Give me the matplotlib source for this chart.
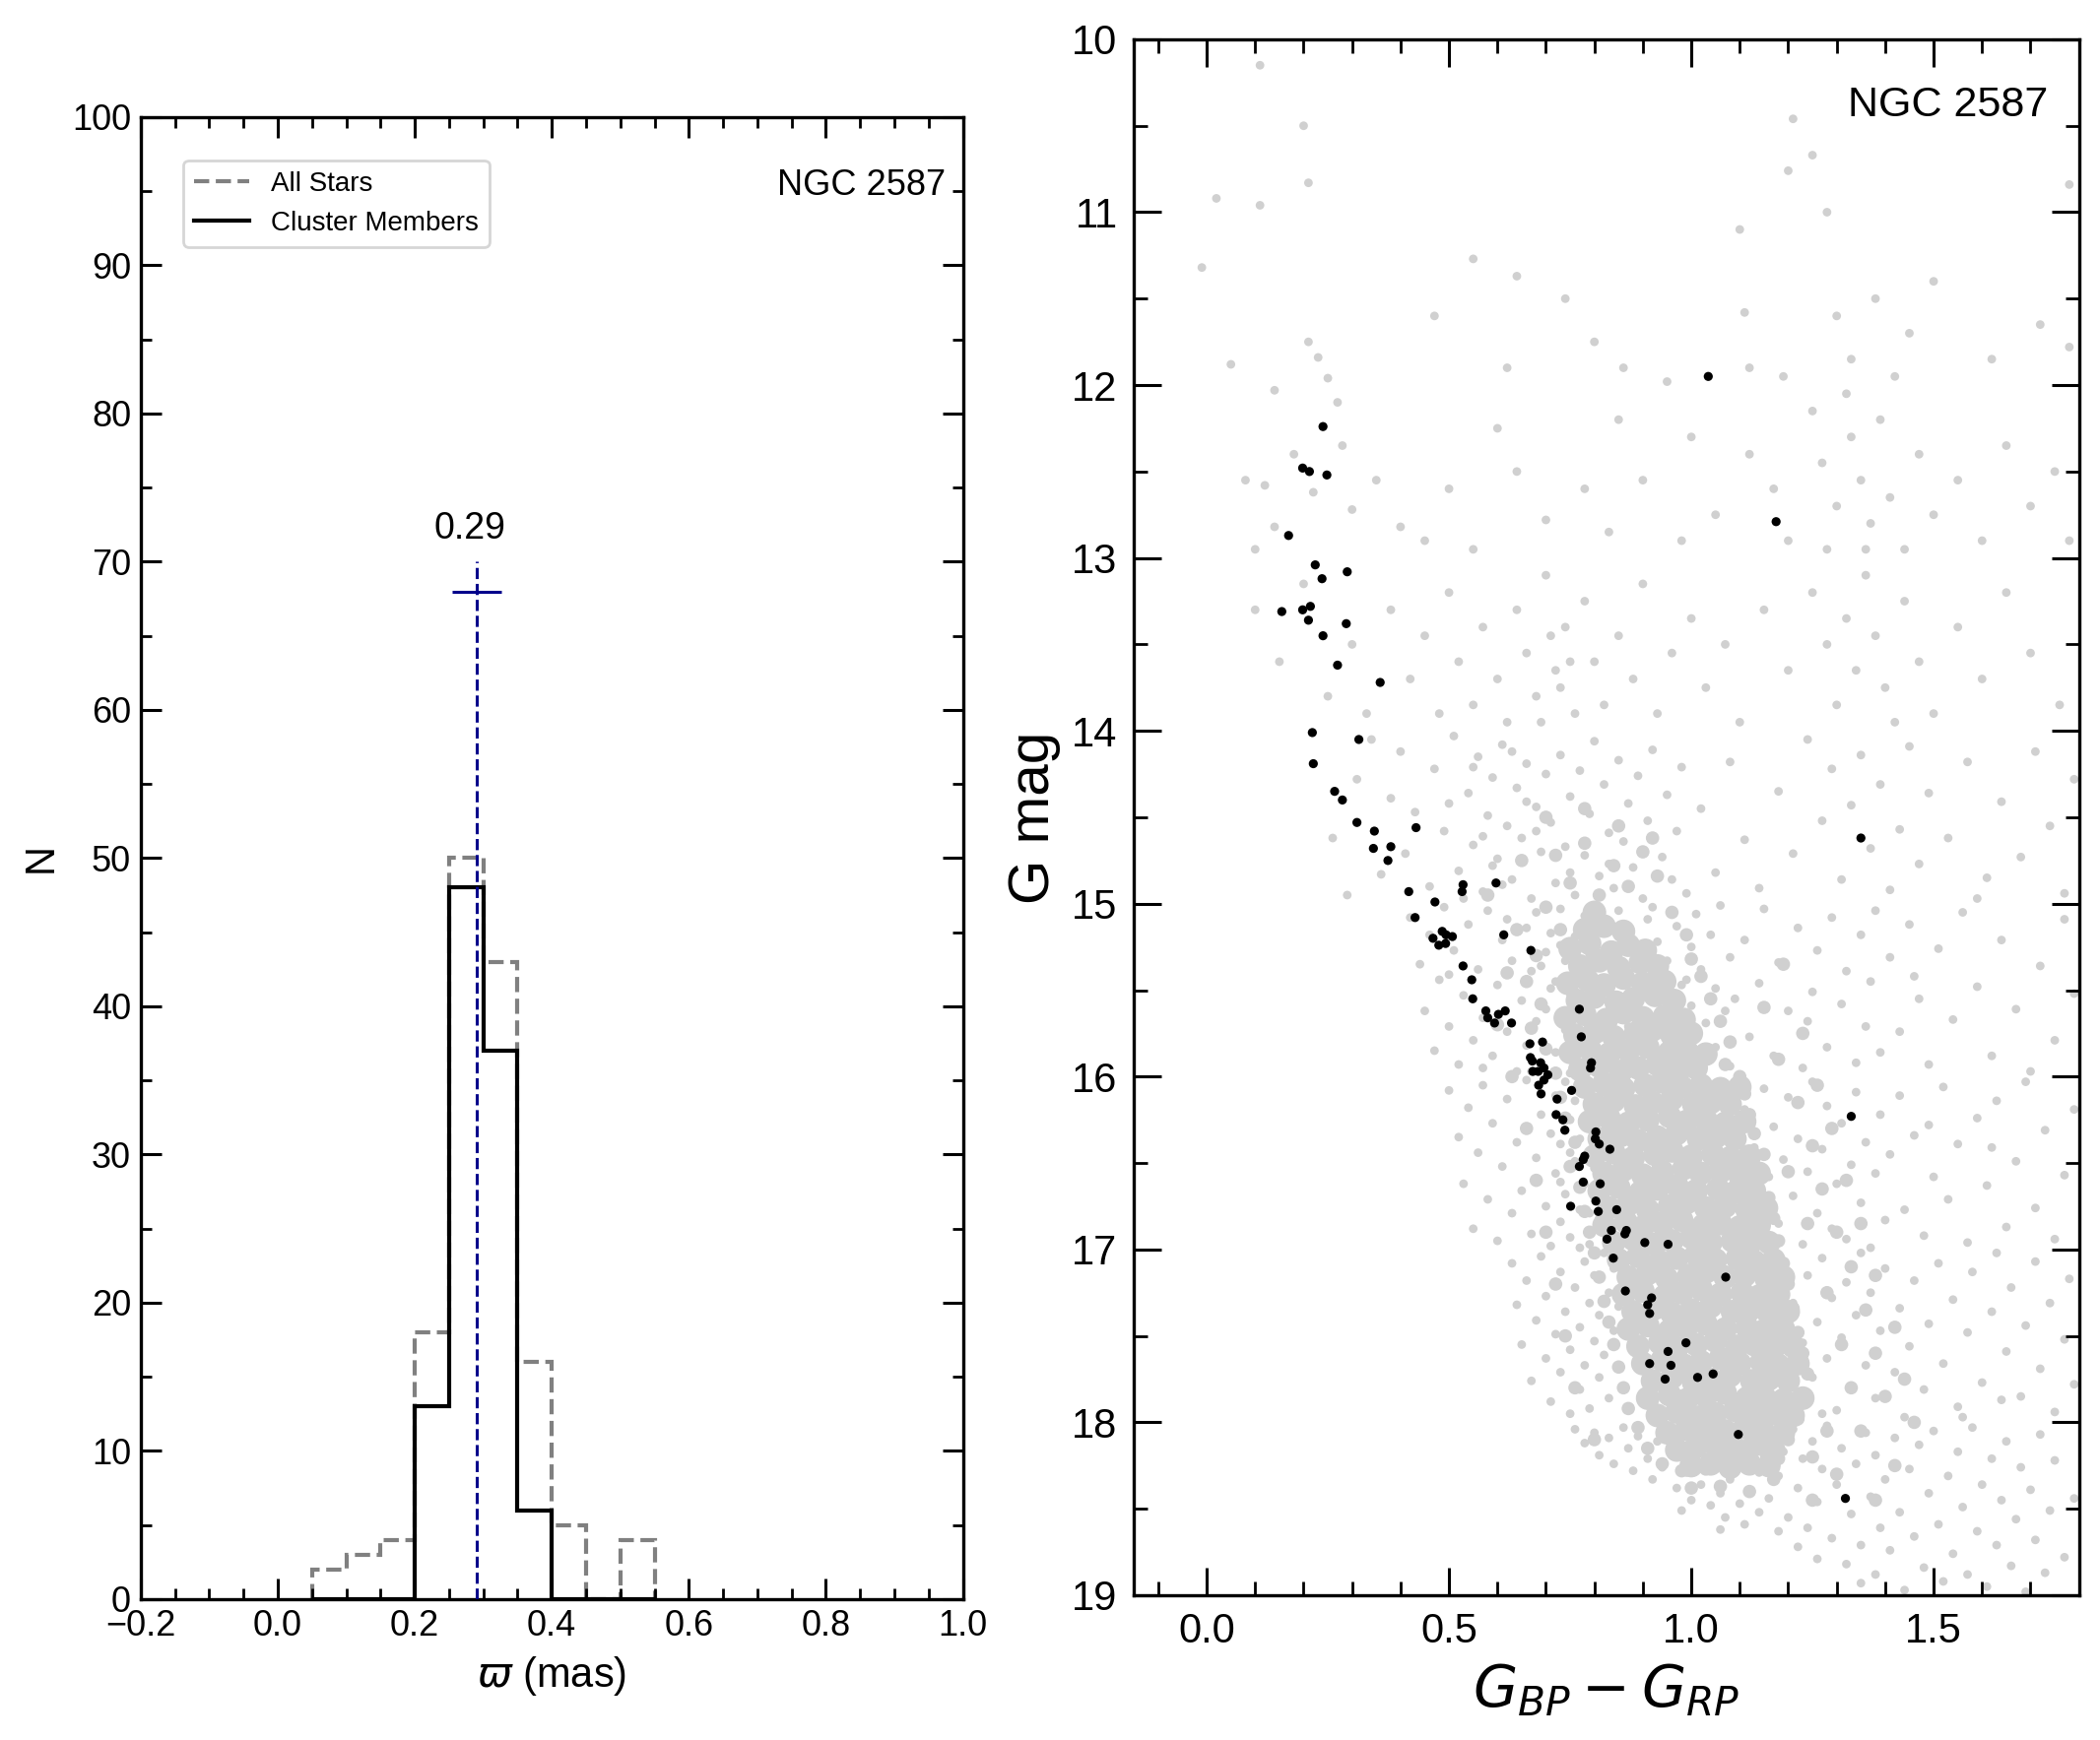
import matplotlib
matplotlib.use('Agg')
import matplotlib.pyplot as plt
from matplotlib.ticker import MultipleLocator

plt.rcParams['font.family'] = ['Liberation Sans', 'DejaVu Sans']
plt.rcParams['mathtext.fontset'] = 'dejavusans'

# ---- parallax histogram (left) ----
bin_edges = [0.05, 0.10, 0.15, 0.20, 0.25, 0.30, 0.35, 0.40, 0.45, 0.50, 0.55]
all_counts = [2, 3, 4, 18, 50, 43, 16, 5, 0, 4]
member_counts = [0, 0, 0, 13, 48, 37, 6, 0, 0, 0]
plx_mean = 0.29
plx_err = 0.036
mean_line_top = 70
mean_bar_y = 68
cluster_name = 'NGC 2587'

# ---- CMD (right): cluster members (BP-RP, G) ----
members = [
    (0.240, 12.24), (0.198, 12.48), (0.212, 12.50), (0.248, 12.52), (0.169, 12.87),
    (0.224, 13.04), (0.290, 13.08), (0.238, 13.12), (0.214, 13.28), (0.155, 13.31),
    (0.198, 13.30), (0.210, 13.36), (0.288, 13.38), (0.240, 13.45), (0.270, 13.62),
    (0.358, 13.72), (0.218, 14.01), (0.314, 14.05), (0.220, 14.19), (0.264, 14.35),
    (0.280, 14.40), (0.310, 14.53), (0.346, 14.58), (0.432, 14.56), (0.344, 14.68),
    (0.380, 14.67), (0.374, 14.75), (0.417, 14.93), (0.529, 14.89), (0.527, 14.93),
    (0.597, 14.88), (0.471, 14.99),
    (0.430, 15.08), (0.486, 15.16), (0.467, 15.20), (0.494, 15.18), (0.507, 15.19),
    (0.479, 15.24), (0.493, 15.23), (0.613, 15.18), (0.669, 15.27), (0.529, 15.36),
    (0.547, 15.44), (0.549, 15.55), (0.576, 15.62), (0.580, 15.66), (0.602, 15.64),
    (0.616, 15.62), (0.594, 15.69), (0.629, 15.69), (0.769, 15.61), (0.773, 15.77),
    (0.667, 15.81), (0.693, 15.80), (0.668, 15.89), (0.672, 15.91), (0.689, 15.92),
    (0.794, 15.92), (0.792, 15.95), (0.673, 15.97), (0.684, 15.97), (0.696, 15.95),
    (0.704, 15.99), (0.696, 16.02), (0.685, 16.05), (0.690, 16.10), (0.753, 16.08),
    (0.723, 16.13), (0.721, 16.22), (0.735, 16.25), (0.739, 16.31), (0.803, 16.32),
    (0.802, 16.36), (0.810, 16.39), (0.832, 16.42), (0.780, 16.46), (0.777, 16.48),
    (0.769, 16.52),
    (0.839, 17.05), (0.826, 16.94), (0.835, 16.89), (0.863, 16.91), (0.866, 16.89),
    (0.904, 16.96), (0.952, 16.97), (0.751, 16.75), (0.803, 16.72), (0.808, 16.78),
    (0.846, 16.77), (0.777, 16.61), (0.812, 16.62),
    (1.071, 17.16), (0.864, 17.24), (0.918, 17.28), (0.910, 17.32), (0.914, 17.37),
    (0.989, 17.54), (0.952, 17.59), (0.914, 17.66), (0.958, 17.67), (0.946, 17.75),
    (1.013, 17.74), (1.045, 17.72), (1.097, 18.07), (1.318, 18.44),
    (1.035, 11.95), (1.175, 12.79), (1.350, 14.62), (1.330, 16.23),
]

# ---- CMD: field stars, estimated by magnitude band ----
field_10_12 = [
    (0.11, 10.15), (0.20, 10.50), (0.02, 10.92), (0.11, 10.96), (-0.01, 11.32),
    (0.21, 10.83), (1.21, 10.46), (1.25, 10.67), (1.20, 10.76), (1.28, 11.00),
    (1.10, 11.10), (0.55, 11.27), (0.64, 11.37), (1.78, 10.84),
    (0.14, 12.03), (0.21, 11.75), (0.23, 11.84), (0.47, 11.60), (0.62, 11.90),
    (0.74, 11.50), (0.80, 11.75), (0.86, 11.90), (0.95, 11.98), (1.11, 11.58),
    (1.12, 11.90), (1.19, 11.95), (1.30, 11.60), (1.38, 11.50), (1.45, 11.70),
    (1.50, 11.40), (1.62, 11.85), (1.72, 11.65), (1.78, 11.78), (1.42, 11.95),
    (1.33, 11.85), (0.25, 11.96), (0.05, 11.88),
]
field_12_13 = [
    (0.08, 12.55), (0.12, 12.58), (0.18, 12.40), (0.22, 12.62), (0.27, 12.10),
    (0.28, 12.35), (0.30, 12.72), (0.14, 12.82), (0.10, 12.95), (0.35, 12.55),
    (0.40, 12.82), (0.45, 12.90), (0.50, 12.60), (0.55, 12.95), (0.64, 12.50),
    (0.70, 12.78), (0.78, 12.60), (0.83, 12.85), (0.90, 12.55), (0.98, 12.90),
    (1.05, 12.75), (1.12, 12.40), (1.17, 12.60), (1.20, 12.90), (1.25, 12.15),
    (1.27, 12.45), (1.30, 12.70), (1.33, 12.30), (1.35, 12.55), (1.37, 12.80),
    (1.39, 12.20), (1.41, 12.65), (1.44, 12.95), (1.47, 12.40), (1.50, 12.75),
    (1.55, 12.55), (1.60, 12.90), (1.65, 12.35), (1.70, 12.70), (1.75, 12.50),
    (1.78, 12.90), (1.28, 12.95), (1.32, 12.05), (1.36, 12.95), (0.60, 12.25),
    (0.85, 12.20), (1.00, 12.30),
]
field_13_14 = [
    (0.10, 13.30), (0.15, 13.60), (0.20, 13.15), (0.25, 13.80), (0.30, 13.50),
    (0.33, 13.90), (0.38, 13.30), (0.42, 13.70), (0.45, 13.45), (0.48, 13.90),
    (0.50, 13.20), (0.52, 13.60), (0.55, 13.85), (0.57, 13.40), (0.60, 13.70),
    (0.62, 13.95), (0.64, 13.30), (0.66, 13.55), (0.68, 13.80), (0.70, 13.10),
    (0.72, 13.65), (0.74, 13.40), (0.76, 13.90), (0.78, 13.25), (0.80, 13.60),
    (0.82, 13.85), (0.85, 13.45), (0.88, 13.70), (0.90, 13.15), (0.93, 13.90),
    (0.96, 13.55), (1.00, 13.35), (1.03, 13.75), (1.07, 13.50), (1.10, 13.95),
    (1.15, 13.30), (1.20, 13.65), (1.25, 13.20), (1.28, 13.50), (1.30, 13.85),
    (1.32, 13.35), (1.34, 13.65), (1.36, 13.10), (1.38, 13.45), (1.40, 13.75),
    (1.42, 13.95), (1.44, 13.25), (1.47, 13.60), (1.50, 13.90), (1.55, 13.40),
    (1.60, 13.70), (1.65, 13.20), (1.70, 13.55), (1.76, 13.85), (0.71, 13.45),
    (0.73, 13.75), (0.69, 13.95), (0.75, 13.60),
]
field_14_15 = [
    (0.26, 14.62), (0.31, 14.28), (0.36, 14.83), (0.29, 14.95), (0.40, 14.12),
    (0.43, 14.47), (0.34, 14.05), (0.46, 14.90), (0.41, 14.71), (0.38, 14.39),
    (0.47, 14.22), (0.49, 14.58), (0.51, 14.03), (0.52, 14.81), (0.54, 14.36),
    (0.55, 14.66), (0.56, 14.15), (0.57, 14.93), (0.58, 14.49), (0.59, 14.27),
    (0.60, 14.74), (0.61, 14.08), (0.62, 14.55), (0.63, 14.86), (0.64, 14.33),
    (0.65, 14.62), (0.66, 14.19), (0.67, 14.97), (0.68, 14.44), (0.69, 14.70),
    (0.50, 14.42), (0.53, 14.97), (0.57, 14.61), (0.61, 14.89), (0.66, 14.41),
    (0.70, 14.25), (0.63, 14.12), (0.59, 14.78), (0.55, 14.21), (0.68, 14.58),
    (0.71, 14.53), (0.72, 14.88), (0.73, 14.14), (0.74, 14.67), (0.75, 14.38),
    (0.76, 14.95), (0.77, 14.23), (0.78, 14.72), (0.79, 14.48), (0.80, 14.06),
    (0.81, 14.84), (0.82, 14.31), (0.83, 14.59), (0.84, 14.91), (0.85, 14.17),
    (0.86, 14.64), (0.87, 14.42), (0.88, 14.79), (0.89, 14.26), (0.90, 14.97),
    (0.91, 14.52), (0.92, 14.11), (0.94, 14.73), (0.95, 14.37), (0.96, 14.86),
    (0.97, 14.58), (0.98, 14.21), (0.99, 14.94), (0.75, 14.82), (0.83, 14.77),
    (1.02, 14.45), (1.05, 14.82), (1.08, 14.18), (1.11, 14.63), (1.14, 14.91),
    (1.18, 14.35), (1.21, 14.71), (1.24, 14.05), (1.27, 14.52), (1.29, 14.22),
    (1.31, 14.86), (1.33, 14.43), (1.35, 14.14), (1.37, 14.68), (1.39, 14.31),
    (1.41, 14.92), (1.43, 14.57), (1.45, 14.09), (1.47, 14.77), (1.49, 14.36),
    (1.53, 14.62), (1.57, 14.18), (1.61, 14.85), (1.64, 14.41), (1.68, 14.73),
    (1.71, 14.12), (1.74, 14.55), (1.77, 14.94), (1.79, 14.28), (1.59, 14.97),
]
field_15_16 = [
    (0.42, 15.08), (0.44, 15.35), (0.45, 15.62), (0.46, 15.18), (0.47, 15.85),
    (0.48, 15.44), (0.49, 15.02), (0.50, 15.71), (0.51, 15.27), (0.52, 15.93),
    (0.53, 15.53), (0.54, 15.12), (0.55, 15.79), (0.56, 15.38), (0.57, 15.66),
    (0.58, 15.04), (0.59, 15.88), (0.60, 15.47), (0.61, 15.21), (0.62, 15.74),
    (0.63, 15.33), (0.64, 15.97), (0.50, 15.41), (0.57, 15.95), (0.62, 15.09),
    (0.65, 15.56), (0.66, 15.14), (0.66, 15.82), (0.67, 15.39), (0.68, 15.68),
    (0.68, 15.05), (0.69, 15.92), (0.70, 15.28), (0.70, 15.61), (0.71, 15.17),
    (0.72, 15.86), (0.72, 15.45), (0.73, 15.03), (0.74, 15.73), (0.74, 15.33),
    (0.75, 15.98), (0.75, 15.52), (0.76, 15.19), (0.77, 15.81), (0.77, 15.41),
    (0.78, 15.07), (0.78, 15.66), (0.79, 15.29), (0.79, 15.91), (0.80, 15.55),
    (0.67, 15.97), (0.71, 15.49), (0.73, 15.24), (0.76, 15.63), (0.69, 15.36),
    (0.81, 15.12), (0.81, 15.78), (0.82, 15.43), (0.83, 15.95), (0.83, 15.26),
    (0.84, 15.61), (0.85, 15.04), (0.85, 15.87), (0.86, 15.35), (0.87, 15.71),
    (0.87, 15.16), (0.88, 15.52), (0.89, 15.93), (0.89, 15.28), (0.90, 15.65),
    (0.91, 15.09), (0.91, 15.84), (0.92, 15.41), (0.93, 15.73), (0.93, 15.22),
    (0.94, 15.56), (0.95, 15.97), (0.95, 15.33), (0.96, 15.68), (0.97, 15.13),
    (0.97, 15.89), (0.98, 15.47), (0.99, 15.76), (1.00, 15.25), (1.00, 15.59),
    (1.01, 15.06), (1.02, 15.91), (1.02, 15.38), (1.03, 15.69), (1.04, 15.18),
    (1.05, 15.83), (1.05, 15.49), (1.06, 15.01), (1.07, 15.62), (1.08, 15.31),
    (1.08, 15.94), (1.09, 15.55), (0.84, 15.99), (0.92, 15.02), (0.99, 15.44),
    (1.11, 15.21), (1.12, 15.77), (1.14, 15.46), (1.15, 15.03), (1.17, 15.88),
    (1.18, 15.34), (1.20, 15.62), (1.22, 15.14), (1.23, 15.95), (1.25, 15.51),
    (1.26, 15.27), (1.28, 15.83), (1.29, 15.08), (1.31, 15.58), (1.32, 15.39),
    (1.34, 15.92), (1.35, 15.18), (1.36, 15.71), (1.37, 15.45), (1.38, 15.04),
    (1.39, 15.86), (1.24, 15.68),
    (1.41, 15.31), (1.43, 15.74), (1.45, 15.12), (1.47, 15.55), (1.49, 15.93),
    (1.51, 15.26), (1.54, 15.67), (1.56, 15.05), (1.59, 15.48), (1.62, 15.88),
    (1.64, 15.21), (1.67, 15.61), (1.70, 15.97), (1.72, 15.36), (1.75, 15.79),
    (1.77, 15.09), (1.79, 15.52), (1.46, 15.42),
]
field_16_17 = [
    (0.50, 16.08), (0.52, 16.35), (0.53, 16.62), (0.54, 16.18), (0.55, 16.88),
    (0.56, 16.44), (0.57, 16.05), (0.58, 16.71), (0.59, 16.27), (0.60, 16.95),
    (0.61, 16.52), (0.62, 16.13), (0.63, 16.79), (0.64, 16.38), (0.65, 16.66),
    (0.66, 16.02), (0.67, 16.91), (0.68, 16.47), (0.69, 16.22), (0.70, 16.75),
    (0.71, 16.33), (0.71, 16.98),
    (0.72, 16.56), (0.72, 16.11), (0.73, 16.84), (0.73, 16.39), (0.74, 16.03),
    (0.74, 16.68), (0.75, 16.25), (0.75, 16.93), (0.76, 16.49), (0.76, 16.14),
    (0.77, 16.77), (0.77, 16.36), (0.78, 16.06), (0.78, 16.62), (0.79, 16.29),
    (0.79, 16.97), (0.80, 16.53), (0.80, 16.17), (0.81, 16.82), (0.81, 16.42),
    (0.82, 16.09), (0.82, 16.71), (0.83, 16.31), (0.83, 16.94), (0.84, 16.58),
    (0.84, 16.21), (0.85, 16.86), (0.85, 16.45), (0.73, 16.61), (0.75, 16.44),
    (0.77, 16.99), (0.79, 16.79), (0.81, 16.26), (0.83, 16.65), (0.74, 16.31),
    (1.11, 16.19), (1.12, 16.74), (1.13, 16.41), (1.14, 16.93), (1.15, 16.07),
    (1.16, 16.58), (1.17, 16.29), (1.18, 16.85), (1.19, 16.48), (1.20, 16.12),
    (1.21, 16.69), (1.22, 16.36), (1.23, 16.97), (1.24, 16.55), (1.25, 16.03),
    (1.26, 16.79), (1.27, 16.42), (1.28, 16.17), (1.29, 16.88), (1.30, 16.62),
    (1.31, 16.27), (1.32, 16.94), (1.33, 16.51), (1.34, 16.09), (1.35, 16.73),
    (1.36, 16.38), (1.37, 16.99), (1.38, 16.56), (1.39, 16.22), (1.40, 16.83),
    (1.41, 16.45), (1.43, 16.11), (1.44, 16.77), (1.46, 16.34), (1.48, 16.92),
    (1.50, 16.58), (1.52, 16.06), (1.53, 16.71), (1.55, 16.39), (1.57, 16.96),
    (1.59, 16.24), (1.61, 16.63), (1.63, 16.14), (1.65, 16.87), (1.67, 16.49),
    (1.69, 16.03), (1.71, 16.76), (1.73, 16.31), (1.75, 16.94), (1.77, 16.57),
    (1.79, 16.19), (1.62, 16.41), (1.49, 16.28),
]
field_17_18 = [
    (0.63, 17.08), (0.64, 17.32), (0.65, 17.55), (0.66, 17.18), (0.67, 17.76),
    (0.68, 17.41), (0.69, 17.04), (0.70, 17.63), (0.70, 17.27), (0.71, 17.88),
    (0.72, 17.49), (0.73, 17.13), (0.73, 17.71), (0.74, 17.36), (0.75, 17.95),
    (0.75, 17.58), (0.76, 17.22), (0.77, 17.81), (0.77, 17.45), (0.78, 17.07),
    (0.78, 17.67), (0.79, 17.31), (0.79, 17.92), (0.80, 17.53), (0.80, 17.15),
    (0.81, 17.74), (0.81, 17.38), (0.82, 17.02), (0.82, 17.61), (0.83, 17.25),
    (0.83, 17.86), (0.84, 17.47), (0.84, 17.11), (0.85, 17.69), (0.85, 17.33),
    (1.21, 17.31), (1.22, 17.89), (1.23, 17.54), (1.24, 17.15), (1.25, 17.74),
    (1.26, 17.42), (1.27, 17.05), (1.28, 17.63), (1.29, 17.28), (1.30, 17.93),
    (1.31, 17.51), (1.32, 17.19), (1.33, 17.79), (1.34, 17.38), (1.35, 17.02),
    (1.36, 17.67), (1.37, 17.25), (1.38, 17.86), (1.39, 17.47), (1.40, 17.11),
    (1.42, 17.71), (1.43, 17.34), (1.44, 17.97), (1.45, 17.56), (1.46, 17.18),
    (1.48, 17.81), (1.49, 17.43), (1.27, 17.95),
    (1.51, 17.08), (1.52, 17.66), (1.54, 17.29), (1.55, 17.91), (1.57, 17.48),
    (1.58, 17.13), (1.60, 17.77), (1.62, 17.36), (1.63, 17.02), (1.65, 17.59),
    (1.66, 17.22), (1.68, 17.85), (1.69, 17.44), (1.71, 17.07), (1.72, 17.69),
    (1.74, 17.31), (1.75, 17.94), (1.77, 17.52), (1.78, 17.17), (1.79, 17.78),
    (1.56, 17.97), (1.64, 17.87),
]
field_18_19 = [
    (0.76, 18.04), (0.78, 18.12), (0.80, 18.06), (0.81, 18.19), (0.83, 18.09),
    (0.84, 18.24), (0.86, 18.03), (0.87, 18.15), (0.88, 18.28), (0.89, 18.08),
    (0.91, 18.21), (0.92, 18.33), (0.93, 18.11), (0.94, 18.26), (0.95, 18.04),
    (0.96, 18.17), (0.97, 18.38), (0.98, 18.09), (0.99, 18.29), (1.00, 18.45),
    (1.00, 18.02), (1.01, 18.21), (1.02, 18.36), (1.03, 18.12), (1.04, 18.48),
    (1.04, 18.27), (1.05, 18.05), (1.06, 18.41), (1.07, 18.18), (1.07, 18.55),
    (1.08, 18.33), (1.09, 18.08), (1.10, 18.47), (1.10, 18.24), (1.11, 18.59),
    (1.12, 18.14), (1.12, 18.39), (1.13, 18.03), (1.14, 18.52), (1.14, 18.29),
    (1.15, 18.19), (0.98, 18.51), (1.06, 18.62),
    (1.16, 18.44), (1.17, 18.08), (1.18, 18.63), (1.18, 18.31), (1.19, 18.17),
    (1.20, 18.55), (1.21, 18.04), (1.22, 18.72), (1.22, 18.38), (1.23, 18.21),
    (1.24, 18.61), (1.25, 18.11), (1.26, 18.46), (1.26, 18.79), (1.27, 18.27),
    (1.28, 18.02), (1.29, 18.67), (1.30, 18.36), (1.31, 18.15), (1.32, 18.82),
    (1.33, 18.53), (1.34, 18.24), (1.35, 18.71), (1.36, 18.06), (1.37, 18.43),
    (1.38, 18.88), (1.38, 18.19), (1.39, 18.61), (1.40, 18.33), (1.35, 18.93),
    (1.41, 18.74), (1.42, 18.09), (1.43, 18.52), (1.44, 18.97), (1.45, 18.27),
    (1.46, 18.66), (1.47, 18.13), (1.48, 18.84), (1.49, 18.41), (1.50, 18.05),
    (1.51, 18.59), (1.52, 18.92), (1.53, 18.31), (1.54, 18.76), (1.55, 18.17),
    (1.56, 18.49), (1.57, 18.88), (1.58, 18.03), (1.59, 18.63), (1.60, 18.36),
    (1.61, 18.95), (1.62, 18.21), (1.63, 18.71), (1.64, 18.45), (1.65, 18.11),
    (1.66, 18.83), (1.67, 18.56), (1.68, 18.26), (1.69, 18.98), (1.70, 18.39),
    (1.71, 18.68), (1.72, 18.07), (1.73, 18.87), (1.74, 18.51), (1.75, 18.22),
    (1.77, 18.78), (1.79, 18.44),
]
# crowded edge of the field main sequence (dots nearly touching)
field_halo = [
    (0.72, 14.72), (0.78, 14.65), (0.84, 14.78), (0.90, 14.70), (0.75, 14.88),
    (0.81, 14.95), (0.87, 14.90), (0.93, 14.84), (0.70, 15.02), (0.96, 15.05),
    (0.73, 15.15), (0.99, 15.18), (0.68, 15.30), (1.00, 15.32), (0.66, 15.45),
    (1.02, 15.42), (0.69, 15.58), (1.04, 15.55), (0.67, 15.72), (1.06, 15.68),
    (0.70, 15.84), (1.08, 15.80), (0.72, 15.98), (1.07, 15.93), (1.10, 16.00),
    (0.73, 16.12), (1.11, 16.10), (0.74, 16.24), (1.12, 16.22), (0.76, 16.38),
    (1.13, 16.33), (0.75, 16.52), (1.15, 16.45), (0.77, 16.64), (1.14, 16.58),
    (0.78, 16.78), (1.16, 16.70), (0.79, 16.90), (1.17, 16.82), (0.80, 17.02),
    (1.18, 16.95), (0.81, 17.16), (1.19, 17.08), (0.82, 17.30), (1.20, 17.20),
    (0.83, 17.42), (1.21, 17.34), (0.84, 17.55), (1.22, 17.48), (0.85, 17.68),
    (1.23, 17.60), (0.86, 17.80), (1.24, 17.72), (0.87, 17.92), (1.23, 17.85),
    (0.89, 18.03), (1.22, 17.98), (0.91, 18.15), (1.20, 18.10), (0.94, 18.24),
    (1.18, 18.21), (0.98, 18.28), (1.03, 18.27), (1.08, 18.26), (1.13, 18.25),
    (1.00, 18.38), (1.06, 18.37), (1.12, 18.40), (1.17, 18.33),
    (1.15, 15.60), (1.18, 15.90), (1.22, 16.15), (1.25, 16.40), (1.27, 16.65),
    (1.30, 16.90), (1.33, 17.10), (1.36, 17.35), (1.38, 17.60), (1.40, 17.85),
    (1.35, 18.05), (1.30, 18.30), (1.25, 18.45), (1.20, 16.55), (1.24, 16.85),
    (1.28, 17.25), (1.31, 17.55), (1.33, 17.80), (1.28, 18.05), (1.25, 18.20),
    (1.19, 15.35), (1.23, 15.75), (1.26, 16.05), (1.29, 16.30), (1.32, 16.60),
    (1.35, 16.85), (1.38, 17.15), (1.42, 17.45), (1.44, 17.75), (1.46, 18.00),
    (1.42, 18.25), (1.38, 18.45),
    (0.62, 15.40), (0.60, 15.70), (0.63, 16.00), (0.66, 16.30), (0.68, 16.60),
    (0.70, 16.90), (0.72, 17.20), (0.74, 17.50), (0.76, 17.80), (0.80, 18.10),
    (0.64, 15.15), (0.58, 14.95), (0.65, 14.75), (0.70, 14.50), (0.78, 14.45),
    (0.85, 14.55), (0.92, 14.62),
]
# saturated core of the field main sequence, where the dots merge into a solid patch
field_core = [
    (0.80, 15.05), (0.78, 15.15), (0.82, 15.13), (0.86, 15.16),
    (0.75, 15.26), (0.79, 15.23), (0.835, 15.28), (0.87, 15.24), (0.905, 15.27),
    (0.77, 15.36), (0.81, 15.33), (0.85, 15.37), (0.895, 15.34), (0.93, 15.36),
    (0.745, 15.46), (0.785, 15.44), (0.82, 15.47), (0.86, 15.43), (0.90, 15.46), (0.945, 15.45),
    (0.765, 15.56), (0.80, 15.54), (0.845, 15.57), (0.88, 15.55), (0.925, 15.53), (0.965, 15.56),
    (0.74, 15.66), (0.78, 15.64), (0.825, 15.67), (0.86, 15.63), (0.90, 15.66), (0.945, 15.65),
    (0.985, 15.67),
    (0.76, 15.76), (0.80, 15.74), (0.84, 15.77), (0.885, 15.75), (0.92, 15.73), (0.96, 15.76),
    (1.00, 15.75),
    (0.75, 15.86), (0.79, 15.84), (0.83, 15.87), (0.87, 15.85), (0.91, 15.83), (0.955, 15.86),
    (0.99, 15.85), (1.03, 15.87),
    (0.77, 15.96), (0.81, 15.94), (0.855, 15.97), (0.89, 15.95), (0.93, 15.93), (0.975, 15.96),
    (1.01, 15.95),
    (0.78, 16.06), (0.82, 16.04), (0.86, 16.07), (0.905, 16.05), (0.94, 16.03), (0.98, 16.06),
    (1.02, 16.05), (1.06, 16.07), (1.10, 16.06),
    (0.80, 16.16), (0.84, 16.14), (0.885, 16.17), (0.92, 16.15), (0.96, 16.13), (1.005, 16.16),
    (1.04, 16.15), (1.08, 16.16),
    (0.79, 16.26), (0.83, 16.24), (0.87, 16.27), (0.91, 16.25), (0.955, 16.23), (0.99, 16.26),
    (1.03, 16.25), (1.07, 16.27), (1.11, 16.26),
    (0.81, 16.36), (0.855, 16.34), (0.89, 16.37), (0.93, 16.35), (0.97, 16.33), (1.015, 16.36),
    (1.05, 16.35), (1.09, 16.36),
    (0.80, 16.46), (0.84, 16.44), (0.88, 16.47), (0.925, 16.45), (0.96, 16.43), (1.00, 16.46),
    (1.045, 16.45), (1.08, 16.47), (1.12, 16.46),
    (0.82, 16.56), (0.86, 16.54), (0.90, 16.57), (0.94, 16.55), (0.985, 16.53), (1.02, 16.56),
    (1.06, 16.55), (1.10, 16.57), (1.14, 16.56),
    (0.81, 16.66), (0.85, 16.64), (0.895, 16.67), (0.93, 16.65), (0.97, 16.63), (1.01, 16.66),
    (1.055, 16.65), (1.09, 16.67), (1.13, 16.66),
    (0.83, 16.76), (0.87, 16.74), (0.91, 16.77), (0.955, 16.75), (0.99, 16.73), (1.03, 16.76),
    (1.07, 16.75), (1.115, 16.77), (1.155, 16.76),
    (0.82, 16.86), (0.865, 16.84), (0.90, 16.87), (0.94, 16.85), (0.98, 16.83), (1.025, 16.86),
    (1.06, 16.85), (1.10, 16.87), (1.14, 16.86),
    (0.84, 16.96), (0.88, 16.94), (0.925, 16.97), (0.96, 16.95), (1.00, 16.93), (1.04, 16.96),
    (1.085, 16.95), (1.12, 16.97), (1.16, 16.96),
    (0.85, 17.06), (0.89, 17.04), (0.935, 17.07), (0.97, 17.05), (1.01, 17.03), (1.05, 17.06),
    (1.095, 17.05), (1.13, 17.07), (1.17, 17.06),
    (0.87, 17.16), (0.91, 17.14), (0.95, 17.17), (0.995, 17.15), (1.03, 17.13), (1.07, 17.16),
    (1.11, 17.15), (1.155, 17.17), (1.19, 17.16),
    (0.86, 17.26), (0.90, 17.24), (0.945, 17.27), (0.98, 17.25), (1.02, 17.23), (1.06, 17.26),
    (1.105, 17.25), (1.14, 17.27), (1.18, 17.26),
    (0.88, 17.36), (0.925, 17.34), (0.96, 17.37), (1.00, 17.35), (1.04, 17.33), (1.085, 17.36),
    (1.12, 17.35), (1.16, 17.37), (1.20, 17.36),
    (0.87, 17.46), (0.91, 17.44), (0.955, 17.47), (0.99, 17.45), (1.03, 17.43), (1.07, 17.46),
    (1.115, 17.45), (1.15, 17.47), (1.19, 17.46),
    (0.89, 17.56), (0.935, 17.54), (0.97, 17.57), (1.01, 17.55), (1.05, 17.53), (1.095, 17.56),
    (1.13, 17.55), (1.17, 17.57), (1.21, 17.56),
    (0.90, 17.66), (0.94, 17.64), (0.985, 17.67), (1.02, 17.65), (1.06, 17.63), (1.10, 17.66),
    (1.145, 17.65), (1.18, 17.67), (1.22, 17.66),
    (0.92, 17.76), (0.96, 17.74), (1.005, 17.77), (1.04, 17.75), (1.08, 17.73), (1.125, 17.76),
    (1.16, 17.75), (1.20, 17.76),
    (0.91, 17.86), (0.955, 17.84), (0.99, 17.87), (1.03, 17.85), (1.07, 17.83), (1.115, 17.86),
    (1.15, 17.85), (1.19, 17.87), (1.23, 17.86),
    (0.93, 17.96), (0.97, 17.94), (1.015, 17.97), (1.05, 17.95), (1.09, 17.93), (1.135, 17.96),
    (1.17, 17.95), (1.21, 17.96),
    (0.95, 18.06), (0.99, 18.04), (1.035, 18.07), (1.07, 18.05), (1.11, 18.03), (1.15, 18.06),
    (1.19, 18.06),
    (0.97, 18.16), (1.01, 18.14), (1.055, 18.17), (1.09, 18.15), (1.13, 18.13), (1.17, 18.16),
    (1.00, 18.25), (1.04, 18.24), (1.08, 18.26), (1.12, 18.24), (1.16, 18.25),
]

field = field_10_12 + field_12_13 + field_13_14 + field_14_15 + field_15_16 \
    + field_16_17 + field_17_18 + field_18_19
field_c, field_g = zip(*field)
halo_c, halo_g = zip(*field_halo)
core_c, core_g = zip(*field_core)
mem_c, mem_g = zip(*members)


fig = plt.figure(figsize=(10.66, 8.835), dpi=200)
ax1 = fig.add_axes([0.067, 0.081, 0.3915, 0.8517])
ax2 = fig.add_axes([0.540, 0.0832, 0.450, 0.8942])

# left: histogram
ax1.stairs(all_counts, bin_edges, color='gray', linestyle='--', lw=1.5, label='All Stars')
ax1.stairs(member_counts, bin_edges, color='black', lw=1.5, label='Cluster Members')
ax1.vlines(plx_mean, 0, mean_line_top, colors='darkblue', linestyles='--', lw=1.1, zorder=5)
ax1.errorbar(plx_mean, mean_bar_y, xerr=plx_err, fmt='none', ecolor='darkblue', elinewidth=1.1, zorder=5)
ax1.text(plx_mean - 0.01, mean_line_top + 1, '%.2f' % plx_mean, ha='center', va='bottom', fontsize=13.5)
ax1.text(0.979, 0.954, cluster_name, transform=ax1.transAxes, ha='right', va='center', fontsize=13)

ax1.set_xlim(-0.2, 1.0)
ax1.set_ylim(0, 100)
ax1.xaxis.set_major_locator(MultipleLocator(0.2))
ax1.xaxis.set_minor_locator(MultipleLocator(0.05))
ax1.yaxis.set_major_locator(MultipleLocator(10))
ax1.yaxis.set_minor_locator(MultipleLocator(5))
ax1.tick_params(which='both', direction='in', top=True, right=True)
ax1.tick_params(which='major', length=7.5, width=1.1, labelsize=13)
ax1.tick_params(which='minor', length=4, width=1.0)
ax1.set_xlabel(r'$\varpi$ (mas)', fontsize=15)
ax1.set_ylabel('N', fontsize=15)
leg = ax1.legend(loc='upper left', bbox_to_anchor=(0.035, 0.98), fontsize=10, frameon=True)
leg.get_frame().set_edgecolor('#cccccc')

# right: CMD
gray = '#d0d0d0'
ax2.scatter(field_c, field_g, s=10, c=gray, edgecolors='none')
ax2.scatter(halo_c, halo_g, s=24, c=gray, edgecolors='none')
ax2.scatter(core_c, core_g, s=75, c=gray, edgecolors='none')
ax2.scatter(mem_c, mem_g, s=11, c='black', edgecolors='none')
ax2.text(0.967, 0.97, cluster_name, transform=ax2.transAxes, ha='right', va='top', fontsize=15.5)

ax2.set_xlim(-0.15, 1.8)
ax2.set_ylim(19, 10)
ax2.xaxis.set_major_locator(MultipleLocator(0.5))
ax2.xaxis.set_minor_locator(MultipleLocator(0.1))
ax2.yaxis.set_major_locator(MultipleLocator(1))
ax2.yaxis.set_minor_locator(MultipleLocator(0.5))
ax2.tick_params(which='both', direction='in', top=True, right=True)
ax2.tick_params(which='major', length=10, width=1.1, labelsize=15, pad=6)
ax2.tick_params(which='minor', length=5, width=1.0)
ax2.set_xlabel(r'$G_{BP} - G_{RP}$', fontsize=21)
ax2.set_ylabel('G mag', fontsize=21)

for ax in (ax1, ax2):
    for sp in ax.spines.values():
        sp.set_linewidth(1.2)

fig.savefig('out.png', dpi=200)
